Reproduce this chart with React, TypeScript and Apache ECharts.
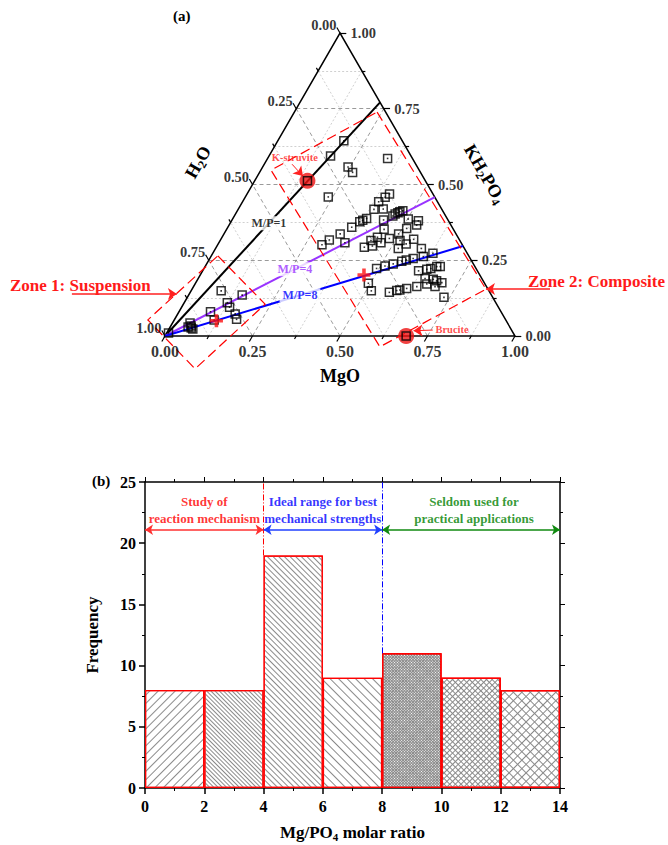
import React, { useEffect, useRef } from "react";
import * as echarts from "echarts";

const FONT = "'Times New Roman', 'Liberation Serif', serif";

// ---------------- (a) ternary diagram data (mass fractions) ----------------
// H2O = 1 - MgO - KH2PO4
const sampleMgO = [
  0.005, 0.05, 0.068, 0.051, 0.058, 0.062, 0.09, 0.114, 0.086, 0.123, 0.137, 0.164, 0.177, 0.153,
  0.189, 0.176, 0.343, 0.244, 0.266, 0.237, 0.407, 0.4, 0.389, 0.388, 0.414, 0.456, 0.462, 0.466,
  0.473, 0.453, 0.382, 0.368, 0.374, 0.354, 0.332, 0.311, 0.298, 0.36, 0.433, 0.502, 0.534, 0.45,
  0.444, 0.431, 0.423, 0.444, 0.463, 0.48, 0.499, 0.513, 0.536, 0.514, 0.522, 0.537, 0.551, 0.588,
  0.493, 0.513, 0.533, 0.553, 0.564, 0.581, 0.607, 0.629, 0.494, 0.515, 0.569, 0.587, 0.595, 0.612,
  0.638, 0.662, 0.617, 0.638, 0.648, 0.662, 0.672, 0.648, 0.673, 0.685, 0.703, 0.733, 0.69,
];
const sampleKH2PO4 = [
  0.01, 0.043, 0.023, 0.03, 0.033, 0.026, 0.08, 0.053, 0.149, 0.11, 0.095, 0.073, 0.055, 0.135,
  0.644, 0.594, 0.586, 0.558, 0.54, 0.459, 0.469, 0.458, 0.443, 0.418, 0.419, 0.403, 0.407, 0.41,
  0.413, 0.396, 0.388, 0.377, 0.382, 0.359, 0.337, 0.317, 0.301, 0.308, 0.383, 0.386, 0.38, 0.352,
  0.326, 0.315, 0.293, 0.297, 0.308, 0.322, 0.337, 0.355, 0.366, 0.315, 0.289, 0.304, 0.319, 0.289,
  0.223, 0.231, 0.238, 0.247, 0.251, 0.256, 0.262, 0.273, 0.174, 0.149, 0.144, 0.15, 0.152, 0.157,
  0.163, 0.172, 0.215, 0.22, 0.223, 0.229, 0.229, 0.19, 0.187, 0.182, 0.176, 0.128, 0.163,
];
const crossMgO = [0.122, 0.468];
const crossKH2PO4 = [0.05, 0.201];
const phaseNames = ["K-struvite", "Brucite"];
const phaseMgO = [0.151, 0.689];
const phaseKH2PO4 = [0.512, 0.0];
const mpNames = ["M/P=1", "M/P=4", "M/P=8"];
const mpEndMgO = [0.229, 0.542, 0.703]; // end point on the H2O = 0 edge
const ternaryTicks = [0, 0.25, 0.5, 0.75, 1];
const ternaryMinorTicks = [0.125, 0.375, 0.625, 0.875];

// ---------------- (b) histogram data ----------------
const binLabels = ["0-2", "2-4", "4-6", "6-8", "8-10", "10-12", "12-14"];
const frequency = [8, 8, 19, 9, 11, 9, 8];
const rangeTexts = [
  "Study of\nreaction mechanism",
  "Ideal range for best\nmechanical strengths",
  "Seldom used for\npractical applications",
];
const rangeFrom = [0, 4, 8];
const rangeTo = [4, 8, 14];
const rangeCenter = [2, 6, 11.1];
const boundaryX = [4, 8];
const boundaryTopOfBar = [19, 11];

// ---------------------------------------------------------------------------
const SQ = Math.sqrt(3) / 2;
const T = (a: number, b: number): number[] => [a + b / 2, b * SQ];

const mpColors = ["#000000", "#9933ff", "#0000ff"];
const mpLabelFrac = [0.483, 0.481, 0.453];
const rangeColors = ["#ff0000", "#0000ff", "#008000"];
const arrowColors = ["#ff3030", "#2040ff", "#108a10"];

function buildOption(): any {
  const steps = [0.125, 0.25, 0.375, 0.5, 0.625, 0.75, 0.875];
  const gridMajor: any[] = [];
  const gridMinor: any[] = [];
  steps.forEach((v) => {
    const isMajor = ternaryTicks.indexOf(v) >= 0;
    const segs = [
      [T(v, 0), T(v, 1 - v)],
      [T(0, v), T(1 - v, v)],
      [T(1 - v, 0), T(0, 1 - v)],
    ];
    segs.forEach((s) => (isMajor ? gridMajor : gridMinor).push({ coords: s }));
  });

  const tickSegs: any[] = [];
  const addTicks = (v: number, len: number) => {
    tickSegs.push({ coords: [T(v, 0), T(v, -len)] });
    tickSegs.push({ coords: [T(1 - v, v), T(1 - v + len, v)] });
    tickSegs.push({ coords: [T(0, 1 - v), T(-len, 1 - v + len)] });
  };
  ternaryTicks.forEach((v) => addTicks(v, 0.018));
  ternaryMinorTicks.forEach((v) => addTicks(v, 0.01));

  const tickLabels: any[] = [];
  ternaryTicks.forEach((v) => {
    const txt = v.toFixed(2);
    tickLabels.push({ value: T(v, 0), label: { formatter: txt, position: "bottom", distance: 7, fontSize: 16 } });
    tickLabels.push({ value: T(1 - v, v), label: { formatter: txt, position: "right", distance: 10, fontSize: 14.5 } });
    tickLabels.push({ value: T(0, 1 - v), label: { formatter: txt, position: "left", distance: 3, offset: [0, -8], fontSize: 14.5 } });
  });

  const samples = sampleMgO.map((a, i) => T(a, sampleKH2PO4[i]));
  const phases = phaseMgO.map((a, i) => T(a, phaseKH2PO4[i]));
  const crosses = crossMgO.map((a, i) => T(a, crossKH2PO4[i]));

  const mpLines = mpEndMgO.map((m, i) => ({
    coords: [T(0, 0), T(m, 1 - m)],
    lineStyle: { color: mpColors[i], width: 2, opacity: 1 },
  }));
  const mpLabels = mpEndMgO.map((m, i) => ({
    value: T(m * mpLabelFrac[i], (1 - m) * mpLabelFrac[i]),
    label: { formatter: mpNames[i], color: mpColors[i] },
  }));

  const zones = [
    { coords: [[0.151, 0.229], [0.286, 0.091], [0.086, -0.094], [-0.049, 0.046], [0.151, 0.229]] },
    { coords: [[0.606, 0.64], [0.917, 0.134], [0.614, -0.031], [0.303, 0.474], [0.606, 0.64]] },
  ];
  const annotArrows = [
    { coords: [[-0.266, 0.12], [0.034, 0.12]], lineStyle: { width: 1.5, opacity: 1 } },
    { coords: [[1.1, 0.134], [0.917, 0.134]], lineStyle: { width: 1.5, opacity: 1 } },
    { coords: [[0.363, 0.491], [0.394, 0.457]], lineStyle: { width: 1, opacity: 1 } },
    { coords: [[0.765, 0.017], [0.71, 0.015]], lineStyle: { width: 1, opacity: 1 } },
  ];
  const phaseLabels = [
    { value: [0.371, 0.509], label: { formatter: phaseNames[0] } },
    { value: [0.82, 0.02], label: { formatter: phaseNames[1] } },
  ];

  const stripe = (gap: number, rot: number) => ({
    symbol: "rect",
    symbolSize: 1,
    color: "#8a8a8a",
    dashArrayX: [1, 0],
    dashArrayY: [1, gap],
    rotation: rot,
  });
  const P = Math.PI / 4;
  const decals = [stripe(5, -P), stripe(2, P), stripe(3, P), stripe(5, P), stripe(1, P), stripe(3, P), stripe(5, P)];
  const crossDecals = [null, null, null, null, stripe(1, -P), stripe(3, -P), stripe(5, -P)];

  const axisBase = {
    axisLine: { show: true, onZero: false, lineStyle: { color: "#000", width: 1.5 } },
    splitLine: { show: false },
  };
  const tLabel = { fontFamily: FONT, fontWeight: "bold", color: "#000" };
  const L = (o: any) => ({ opacity: 1, ...o });

  return {
    animation: false,
    backgroundColor: "#fff",
    grid: [
      { left: 165, top: 33, width: 350, height: 303 },
      { left: 145, top: 482, width: 415, height: 306 },
    ],
    xAxis: [
      { gridIndex: 0, type: "value", min: 0, max: 1, show: false },
      { gridIndex: 1, type: "category", data: binLabels, show: false, boundaryGap: true },
      {
        gridIndex: 1, type: "value", min: 0, max: 14, interval: 2, position: "bottom",
        ...axisBase,
        axisTick: { show: true, length: 6, lineStyle: { width: 1.5, color: "#000" } },
        minorTick: { show: true, splitNumber: 2, length: 3, lineStyle: { width: 1, color: "#000" } },
        axisLabel: { ...tLabel, fontSize: 16, margin: 10 },
        name: "{m|Mg/PO}{s|4}{m| molar ratio}",
        nameLocation: "middle",
        nameGap: 34,
        nameTextStyle: {
          rich: {
            m: { fontFamily: FONT, fontWeight: "bold", fontSize: 17, color: "#000", lineHeight: 20, verticalAlign: "middle" },
            s: { fontFamily: FONT, fontWeight: "bold", fontSize: 11, color: "#000", lineHeight: 11, verticalAlign: "bottom" },
          },
        },
      },
      {
        gridIndex: 1, type: "value", min: 0, max: 14, interval: 2, position: "top",
        ...axisBase,
        axisTick: { show: true, length: 5, lineStyle: { width: 1, color: "#000" } },
        minorTick: { show: true, splitNumber: 2, length: 3, lineStyle: { width: 1, color: "#000" } },
        axisLabel: { show: false },
      },
    ],
    yAxis: [
      { gridIndex: 0, type: "value", min: 0, max: SQ, show: false },
      {
        gridIndex: 1, type: "value", min: 0, max: 25, interval: 5, position: "left",
        ...axisBase,
        axisTick: { show: true, length: 6, lineStyle: { width: 1.5, color: "#000" } },
        minorTick: { show: true, splitNumber: 2, length: 3, lineStyle: { width: 1, color: "#000" } },
        axisLabel: { ...tLabel, fontSize: 16, margin: 9 },
        name: "Frequency",
        nameLocation: "middle",
        nameGap: 44,
        nameTextStyle: { ...tLabel, fontSize: 17 },
      },
      {
        gridIndex: 1, type: "value", min: 0, max: 25, interval: 5, position: "right",
        ...axisBase,
        axisTick: { show: true, length: 5, lineStyle: { width: 1, color: "#000" } },
        minorTick: { show: true, splitNumber: 2, length: 3, lineStyle: { width: 1, color: "#000" } },
        axisLabel: { show: false },
      },
    ],
    graphic: [
      { type: "text", x: 173, y: 16, style: { text: "(a)", font: `bold 15px ${FONT}`, fill: "#000", textAlign: "left", textVerticalAlign: "middle" } },
      { type: "text", x: 92, y: 481, style: { text: "(b)", font: `bold 15px ${FONT}`, fill: "#000", textAlign: "left", textVerticalAlign: "middle" } },
      { type: "text", x: 340, y: 376, style: { text: "MgO", font: `bold 18px ${FONT}`, fill: "#000", textAlign: "center", textVerticalAlign: "middle" } },
      {
        type: "text", x: 198, y: 162, rotation: Math.PI / 3,
        style: {
          text: "{m|H}{s|2}{m|O}", textAlign: "center", textVerticalAlign: "middle",
          rich: {
            m: { fontFamily: FONT, fontWeight: "bold", fontSize: 18, fill: "#000", lineHeight: 22, verticalAlign: "middle" },
            s: { fontFamily: FONT, fontWeight: "bold", fontSize: 12, fill: "#000", lineHeight: 12, verticalAlign: "bottom" },
          },
        },
      },
      {
        type: "text", x: 485, y: 174, rotation: -Math.PI / 3,
        style: {
          text: "{m|KH}{s|2}{m|PO}{s|4}", textAlign: "center", textVerticalAlign: "middle",
          rich: {
            m: { fontFamily: FONT, fontWeight: "bold", fontSize: 18, fill: "#000", lineHeight: 22, verticalAlign: "middle" },
            s: { fontFamily: FONT, fontWeight: "bold", fontSize: 12, fill: "#000", lineHeight: 12, verticalAlign: "bottom" },
          },
        },
      },
      { type: "text", x: 10, y: 285, style: { text: "Zone 1: Suspension", font: `bold 17px ${FONT}`, fill: "#ff1a1a", textAlign: "left", textVerticalAlign: "middle" } },
      { type: "text", x: 528, y: 281, style: { text: "Zone 2: Composite", font: `bold 17px ${FONT}`, fill: "#ff1a1a", textAlign: "left", textVerticalAlign: "middle" } },
    ],
    series: [
      // ---- ternary ----
      { type: "lines", coordinateSystem: "cartesian2d", xAxisIndex: 0, yAxisIndex: 0, z: 1, silent: true, clip: false,
        lineStyle: L({ color: "#c4c4c4", width: 0.8, type: [2, 2] }), data: gridMinor },
      { type: "lines", coordinateSystem: "cartesian2d", xAxisIndex: 0, yAxisIndex: 0, z: 1, silent: true, clip: false,
        lineStyle: L({ color: "#808080", width: 0.8, type: [4, 3] }), data: gridMajor },
      { type: "lines", coordinateSystem: "cartesian2d", xAxisIndex: 0, yAxisIndex: 0, z: 3, silent: true, clip: false,
        polyline: true, lineStyle: L({ color: "#000", width: 1.5 }), data: [{ coords: [T(0, 0), T(1, 0), T(0, 1), T(0, 0)] }] },
      { type: "lines", coordinateSystem: "cartesian2d", xAxisIndex: 0, yAxisIndex: 0, z: 3, silent: true, clip: false,
        lineStyle: L({ color: "#000", width: 1.2 }), data: tickSegs },
      { type: "lines", coordinateSystem: "cartesian2d", xAxisIndex: 0, yAxisIndex: 0, z: 4, silent: true, clip: false,
        lineStyle: L({ width: 2 }), data: mpLines },
      { type: "lines", coordinateSystem: "cartesian2d", xAxisIndex: 0, yAxisIndex: 0, z: 5, silent: true, clip: false,
        polyline: true, lineStyle: L({ color: "#ff0000", width: 1.2, type: [10, 5] }), data: zones },
      { type: "lines", coordinateSystem: "cartesian2d", xAxisIndex: 0, yAxisIndex: 0, z: 5, silent: true, clip: false,
        symbol: ["none", "arrow"], symbolSize: 9, lineStyle: L({ color: "#ff2020" }), data: annotArrows },
      { type: "scatter", xAxisIndex: 0, yAxisIndex: 0, z: 6, silent: true, clip: false,
        symbol: "circle", symbolSize: 16, itemStyle: { color: "#ee1111" }, data: phases },
      { type: "scatter", xAxisIndex: 0, yAxisIndex: 0, z: 7, silent: true, clip: false,
        symbol: "rect", symbolSize: 8,
        itemStyle: { color: "rgba(0,0,0,0)", borderColor: "#000", borderWidth: 1.5 },
        data: samples.concat(phases) },
      { type: "scatter", xAxisIndex: 0, yAxisIndex: 0, z: 7, silent: true, clip: false,
        symbol: "rect", symbolSize: 1.6, itemStyle: { color: "#000" }, data: samples },
      { type: "scatter", xAxisIndex: 0, yAxisIndex: 0, z: 8, silent: true, clip: false,
        symbol: "path://M4,0h3v4h4v3h-4v4h-3v-4h-4v-3h4z", symbolSize: 13, itemStyle: { color: "#ff1010" }, data: crosses },
      { type: "scatter", xAxisIndex: 0, yAxisIndex: 0, z: 9, silent: true, clip: false,
        symbolSize: 1, itemStyle: { color: "rgba(0,0,0,0)" },
        label: { show: true, fontFamily: FONT, fontWeight: "bold", color: "#000" }, data: tickLabels },
      { type: "scatter", xAxisIndex: 0, yAxisIndex: 0, z: 9, silent: true, clip: false,
        symbolSize: 1, itemStyle: { color: "rgba(0,0,0,0)" },
        label: { show: true, position: "inside", fontFamily: FONT, fontWeight: "bold", fontSize: 12, backgroundColor: "#fff", padding: [1, 3] },
        data: mpLabels },
      { type: "scatter", xAxisIndex: 0, yAxisIndex: 0, z: 9, silent: true, clip: false,
        symbolSize: 1, itemStyle: { color: "rgba(0,0,0,0)" },
        label: { show: true, position: "inside", fontFamily: FONT, fontWeight: "bold", fontSize: 10.5, color: "#ff2020" },
        data: phaseLabels },

      // ---- histogram ----
      {
        type: "bar", xAxisIndex: 1, yAxisIndex: 1, barCategoryGap: "0%", barGap: "-100%", z: 2, silent: true,
        itemStyle: { color: "#ffffff", borderColor: "#ff0000", borderWidth: 1.2 },
        data: frequency.map((f, i) => ({ value: f, itemStyle: { decal: decals[i] } })),
      },
      {
        type: "bar", xAxisIndex: 1, yAxisIndex: 1, barCategoryGap: "0%", barGap: "-100%", z: 2, silent: true,
        itemStyle: { color: "rgba(255,255,255,0)", borderColor: "#ff0000", borderWidth: 1.2 },
        data: frequency.map((f, i) => (crossDecals[i] ? { value: f, itemStyle: { decal: crossDecals[i] } } : "-")),
      },
      {
        type: "lines", coordinateSystem: "cartesian2d", xAxisIndex: 2, yAxisIndex: 1, z: 3, silent: true, clip: false,
        data: boundaryX.map((x, i) => ({
          coords: [[x, boundaryTopOfBar[i]], [x, 25]],
          lineStyle: { color: rangeColors[i], width: 1, type: [6, 2, 1, 2], opacity: 1 },
        })),
      },
      {
        type: "lines", coordinateSystem: "cartesian2d", xAxisIndex: 2, yAxisIndex: 1, z: 4, silent: true, clip: false,
        symbol: ["arrow", "arrow"], symbolSize: 8,
        data: rangeFrom.map((f, i) => ({
          coords: [[f, 21.1], [rangeTo[i], 21.1]],
          lineStyle: { color: arrowColors[i], width: 1.5, opacity: 1 },
        })),
      },
      {
        type: "scatter", xAxisIndex: 2, yAxisIndex: 1, z: 5, silent: true, clip: false,
        symbolSize: 1, itemStyle: { color: "rgba(0,0,0,0)" },
        data: rangeCenter.map((x, i) => ({
          value: [x, 22.7],
          label: { show: true, position: "inside", formatter: rangeTexts[i], color: rangeColors[i],
            fontFamily: FONT, fontWeight: "bold", fontSize: 13, lineHeight: 17, align: "center" },
        })),
      },
    ],
  };
}

export default function App() {
  const ref = useRef<HTMLDivElement>(null);
  useEffect(() => {
    document.body.style.margin = "0";
    const chart = echarts.init(ref.current as HTMLDivElement, undefined, { renderer: "svg" });
    chart.setOption(buildOption());
    return () => chart.dispose();
  }, []);
  return <div ref={ref} style={{ width: 668, height: 845 }} />;
}
